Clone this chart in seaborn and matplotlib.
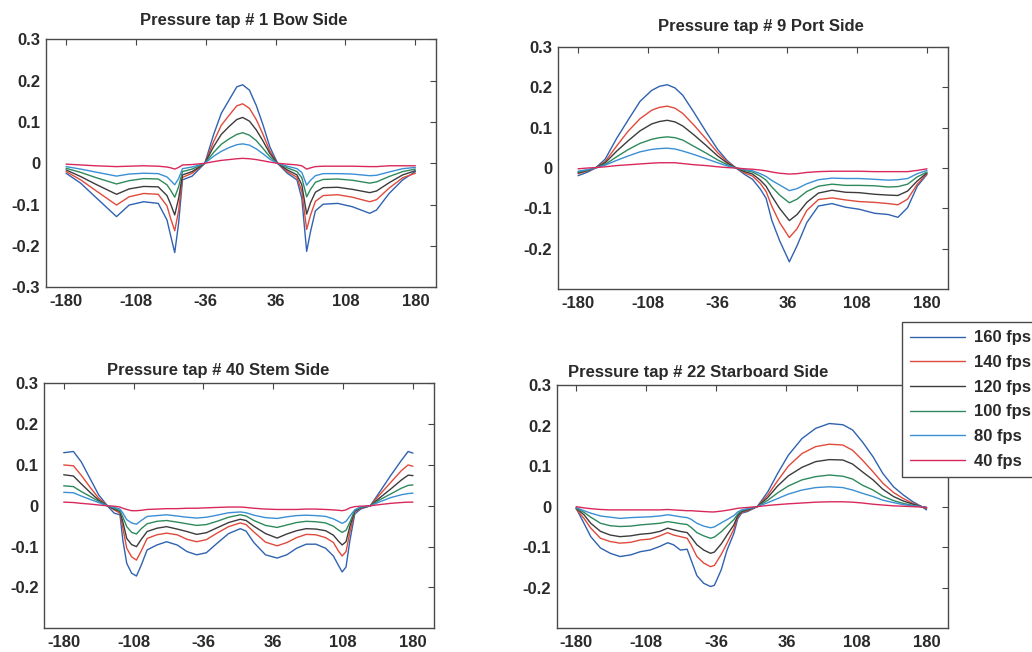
import numpy as np
import pandas as pd
import matplotlib
matplotlib.use("Agg")
import matplotlib.pyplot as plt
import seaborn as sns

# ---------------- data ----------------
speeds = ["160 fps", "140 fps", "120 fps", "100 fps", "80 fps", "40 fps"]
xticks = [-180, -108, -36, 36, 108, 180]

title1 = "Pressure tap # 1 Bow Side"
x1 = [-180, -165, -150, -128, -115, -100, -85, -76, -72, -68, -64, -60, -50, -37, -28, -20, -12, -4, 2, 9,
      16, 23, 30, 38, 48, 58, 63, 68, 72, 77, 85, 100, 115, 133, 140, 153, 167, 180]
p1_160 = [-0.024, -0.048, -0.081, -0.129, -0.101, -0.093, -0.097, -0.137, -0.177, -0.216, -0.145, -0.040, -0.031,
          0.000, 0.069, 0.121, 0.153, 0.185, 0.190, 0.177, 0.140, 0.093, 0.040, 0.000, -0.024, -0.040, -0.085,
          -0.213, -0.165, -0.115, -0.099, -0.097, -0.105, -0.121, -0.113, -0.073, -0.040, -0.020]
p1_140 = [-0.020, -0.040, -0.065, -0.101, -0.081, -0.073, -0.075, -0.103, -0.135, -0.163, -0.115, -0.034, -0.024,
          0.000, 0.052, 0.092, 0.116, 0.139, 0.144, 0.133, 0.106, 0.070, 0.030, 0.000, -0.020, -0.034, -0.068,
          -0.160, -0.125, -0.092, -0.078, -0.076, -0.082, -0.093, -0.088, -0.060, -0.035, -0.024]
p1_120 = [-0.016, -0.032, -0.050, -0.075, -0.062, -0.056, -0.057, -0.078, -0.100, -0.125, -0.085, -0.028, -0.020,
          0.000, 0.040, 0.070, 0.089, 0.106, 0.111, 0.102, 0.081, 0.054, 0.024, 0.000, -0.016, -0.028, -0.052,
          -0.123, -0.095, -0.070, -0.059, -0.058, -0.063, -0.071, -0.067, -0.047, -0.028, -0.018]
p1_100 = [-0.012, -0.022, -0.034, -0.050, -0.042, -0.037, -0.038, -0.052, -0.066, -0.082, -0.057, -0.020, -0.014,
          0.000, 0.026, 0.046, 0.059, 0.070, 0.074, 0.068, 0.055, 0.036, 0.016, 0.000, -0.011, -0.020, -0.035,
          -0.081, -0.063, -0.046, -0.039, -0.038, -0.041, -0.048, -0.045, -0.032, -0.020, -0.014]
p1_80 = [-0.008, -0.014, -0.021, -0.031, -0.026, -0.024, -0.025, -0.033, -0.042, -0.052, -0.037, -0.013, -0.009,
         0.000, 0.017, 0.029, 0.038, 0.045, 0.047, 0.044, 0.035, 0.023, 0.010, 0.000, -0.007, -0.013, -0.022,
         -0.053, -0.041, -0.030, -0.025, -0.025, -0.026, -0.030, -0.029, -0.021, -0.013, -0.010]
p1_40 = [-0.002, -0.004, -0.006, -0.008, -0.007, -0.006, -0.007, -0.009, -0.011, -0.014, -0.010, -0.004, -0.003,
         0.000, 0.004, 0.007, 0.009, 0.011, 0.012, 0.011, 0.009, 0.006, 0.003, 0.000, -0.002, -0.004, -0.006,
         -0.014, -0.011, -0.008, -0.007, -0.007, -0.007, -0.008, -0.008, -0.006, -0.006, -0.006]

title2 = "Pressure tap # 9 Port Side"
x2 = [-180, -170, -162, -152, -140, -128, -116, -104, -96, -88, -80, -72, -60, -48, -36, -26, -17, -8, 0, 8,
      14, 20, 28, 38, 46, 56, 68, 82, 96, 110, 126, 140, 150, 160, 170, 180]
p2_160 = [-0.019, -0.010, 0.000, 0.022, 0.074, 0.120, 0.165, 0.192, 0.202, 0.206, 0.198, 0.180, 0.136, 0.090,
          0.046, 0.018, 0.000, -0.016, -0.028, -0.052, -0.075, -0.130, -0.180, -0.232, -0.192, -0.135, -0.094,
          -0.088, -0.097, -0.102, -0.112, -0.115, -0.122, -0.098, -0.045, -0.016]
p2_140 = [-0.014, -0.007, 0.000, 0.016, 0.055, 0.092, 0.122, 0.143, 0.150, 0.153, 0.148, 0.135, 0.105, 0.072,
          0.038, 0.015, 0.000, -0.012, -0.020, -0.038, -0.058, -0.095, -0.135, -0.172, -0.150, -0.105, -0.078,
          -0.074, -0.079, -0.083, -0.085, -0.088, -0.091, -0.077, -0.040, -0.014]
p2_120 = [-0.012, -0.006, 0.000, 0.013, 0.042, 0.068, 0.092, 0.109, 0.115, 0.118, 0.114, 0.104, 0.081, 0.056,
          0.030, 0.012, 0.000, -0.009, -0.015, -0.030, -0.045, -0.070, -0.100, -0.130, -0.115, -0.085, -0.062,
          -0.055, -0.060, -0.061, -0.065, -0.067, -0.068, -0.057, -0.032, -0.012]
p2_100 = [-0.010, -0.005, 0.000, 0.009, 0.028, 0.046, 0.061, 0.071, 0.075, 0.077, 0.075, 0.069, 0.053, 0.037,
          0.020, 0.008, 0.000, -0.006, -0.010, -0.020, -0.030, -0.047, -0.067, -0.086, -0.077, -0.058, -0.045,
          -0.040, -0.043, -0.043, -0.044, -0.047, -0.046, -0.040, -0.022, -0.010]
p2_80 = [-0.008, -0.004, 0.000, 0.007, 0.019, 0.030, 0.040, 0.046, 0.048, 0.049, 0.047, 0.042, 0.033, 0.023,
         0.013, 0.005, 0.000, -0.004, -0.007, -0.014, -0.021, -0.031, -0.042, -0.056, -0.051, -0.039, -0.029,
         -0.025, -0.026, -0.026, -0.028, -0.030, -0.029, -0.026, -0.014, -0.006]
p2_40 = [-0.002, 0.000, 0.001, 0.003, 0.006, 0.008, 0.010, 0.012, 0.013, 0.013, 0.013, 0.011, 0.008, 0.006,
         0.003, 0.001, 0.000, -0.002, -0.003, -0.005, -0.007, -0.010, -0.013, -0.015, -0.014, -0.011, -0.009,
         -0.008, -0.008, -0.008, -0.009, -0.009, -0.009, -0.009, -0.006, -0.002]

title3 = "Pressure tap # 40 Stem Side"
x3 = [-180, -170, -162, -152, -144, -135, -128, -122, -119, -115, -110, -105, -100, -94, -84, -74, -63, -53,
      -43, -33, -22, -10, 2, 8, 16, 28, 40, 50, 60, 70, 80, 90, 98, 103, 107, 111, 115, 120, 126, 136, 146,
      157, 168, 175, 180]
p3_160 = [0.130, 0.133, 0.108, 0.063, 0.027, 0.000, -0.018, -0.022, -0.085, -0.141, -0.165, -0.172, -0.145,
          -0.108, -0.096, -0.088, -0.096, -0.112, -0.120, -0.115, -0.092, -0.068, -0.056, -0.062, -0.090, -0.120,
          -0.128, -0.120, -0.104, -0.094, -0.094, -0.104, -0.123, -0.145, -0.162, -0.150, -0.085, -0.020, -0.008,
          0.000, 0.035, 0.074, 0.111, 0.133, 0.129]
p3_140 = [0.100, 0.098, 0.075, 0.043, 0.019, 0.000, -0.010, -0.018, -0.055, -0.104, -0.125, -0.133, -0.110,
          -0.080, -0.071, -0.067, -0.071, -0.082, -0.088, -0.083, -0.067, -0.051, -0.042, -0.046, -0.064, -0.089,
          -0.098, -0.090, -0.078, -0.070, -0.071, -0.078, -0.090, -0.110, -0.123, -0.112, -0.065, -0.015, -0.006,
          0.000, 0.028, 0.057, 0.086, 0.100, 0.097]
p3_120 = [0.076, 0.073, 0.054, 0.031, 0.014, 0.000, -0.008, -0.014, -0.040, -0.080, -0.095, -0.100, -0.082,
          -0.063, -0.055, -0.051, -0.057, -0.063, -0.070, -0.066, -0.054, -0.041, -0.033, -0.036, -0.050, -0.068,
          -0.079, -0.069, -0.061, -0.056, -0.057, -0.061, -0.072, -0.086, -0.096, -0.088, -0.050, -0.013, -0.005,
          0.000, 0.020, 0.041, 0.063, 0.075, 0.074]
p3_100 = [0.049, 0.047, 0.035, 0.022, 0.011, 0.000, -0.006, -0.012, -0.028, -0.051, -0.065, -0.069, -0.056,
          -0.044, -0.038, -0.036, -0.040, -0.044, -0.048, -0.046, -0.038, -0.028, -0.022, -0.025, -0.036, -0.048,
          -0.053, -0.047, -0.041, -0.038, -0.039, -0.042, -0.050, -0.059, -0.065, -0.060, -0.040, -0.011, -0.004,
          0.000, 0.015, 0.029, 0.043, 0.050, 0.051]
p3_80 = [0.033, 0.032, 0.024, 0.015, 0.008, 0.000, -0.004, -0.008, -0.018, -0.034, -0.042, -0.045, -0.036,
         -0.026, -0.024, -0.022, -0.025, -0.028, -0.030, -0.028, -0.023, -0.017, -0.015, -0.017, -0.023, -0.029,
         -0.031, -0.027, -0.024, -0.023, -0.024, -0.026, -0.032, -0.038, -0.043, -0.038, -0.025, -0.010, -0.003,
         0.000, 0.010, 0.020, 0.027, 0.030, 0.031]
p3_40 = [0.009, 0.008, 0.006, 0.004, 0.002, 0.000, -0.001, -0.003, -0.006, -0.009, -0.012, -0.012, -0.011,
         -0.009, -0.008, -0.007, -0.007, -0.006, -0.006, -0.005, -0.004, -0.003, -0.003, -0.004, -0.006, -0.008,
         -0.009, -0.009, -0.009, -0.008, -0.008, -0.009, -0.010, -0.011, -0.012, -0.010, -0.005, -0.002, -0.001,
         0.000, 0.003, 0.006, 0.008, 0.009, 0.009]

title4 = "Pressure tap # 22 Starboard Side"
x4 = [-180, -172, -165, -155, -145, -135, -124, -114, -104, -94, -86, -80, -73, -66, -62, -56, -49, -42, -38,
      -31, -25, -18, -14, -10, -4, 6, 17, 27, 38, 52, 66, 80, 94, 104, 114, 125, 135, 146, 156, 166, 175, 180]
p4_160 = [-0.004, -0.041, -0.074, -0.102, -0.115, -0.123, -0.119, -0.111, -0.107, -0.098, -0.089, -0.094, -0.107,
          -0.105, -0.131, -0.170, -0.189, -0.197, -0.194, -0.156, -0.107, -0.066, -0.030, -0.016, -0.012, 0.000,
          0.037, 0.082, 0.127, 0.168, 0.193, 0.205, 0.202, 0.189, 0.160, 0.123, 0.082, 0.049, 0.029, 0.012,
          0.000, -0.008]
p4_140 = [-0.006, -0.029, -0.053, -0.078, -0.086, -0.090, -0.088, -0.082, -0.080, -0.072, -0.064, -0.070, -0.074,
          -0.078, -0.094, -0.123, -0.139, -0.148, -0.145, -0.118, -0.090, -0.055, -0.025, -0.014, -0.010, 0.000,
          0.029, 0.064, 0.100, 0.131, 0.148, 0.154, 0.152, 0.139, 0.115, 0.086, 0.058, 0.035, 0.020, 0.008,
          0.000, -0.004]
p4_120 = [-0.004, -0.020, -0.041, -0.061, -0.070, -0.074, -0.072, -0.068, -0.066, -0.061, -0.053, -0.057, -0.061,
          -0.064, -0.075, -0.094, -0.107, -0.115, -0.112, -0.092, -0.070, -0.045, -0.022, -0.012, -0.008, 0.000,
          0.023, 0.051, 0.076, 0.097, 0.111, 0.116, 0.115, 0.105, 0.086, 0.066, 0.043, 0.025, 0.014, 0.006,
          0.000, -0.003]
p4_100 = [-0.004, -0.014, -0.026, -0.041, -0.047, -0.049, -0.048, -0.045, -0.043, -0.041, -0.037, -0.039, -0.042,
          -0.044, -0.051, -0.064, -0.072, -0.078, -0.075, -0.062, -0.048, -0.032, -0.018, -0.010, -0.006, 0.000,
          0.016, 0.034, 0.051, 0.066, 0.074, 0.078, 0.075, 0.068, 0.053, 0.041, 0.026, 0.015, 0.008, 0.003,
          0.000, -0.002]
p4_80 = [-0.002, -0.010, -0.016, -0.023, -0.026, -0.029, -0.027, -0.026, -0.025, -0.023, -0.020, -0.022, -0.025,
         -0.027, -0.031, -0.041, -0.048, -0.052, -0.050, -0.040, -0.032, -0.022, -0.013, -0.008, -0.005, 0.000,
         0.010, 0.020, 0.031, 0.041, 0.047, 0.049, 0.047, 0.041, 0.033, 0.025, 0.016, 0.010, 0.005, 0.002,
         0.000, -0.002]
p4_40 = [0.000, -0.003, -0.005, -0.007, -0.008, -0.008, -0.008, -0.008, -0.008, -0.008, -0.007, -0.008, -0.009,
         -0.010, -0.010, -0.011, -0.012, -0.013, -0.013, -0.011, -0.009, -0.006, -0.004, -0.003, -0.002, 0.000,
         0.003, 0.005, 0.007, 0.009, 0.011, 0.012, 0.012, 0.011, 0.009, 0.006, 0.004, 0.002, 0.001, 0.000,
         -0.001, -0.002]

# ---------------- styling ----------------
colors = ["#2f62b0", "#e04a3c", "#3c3c3c", "#2e8a5c", "#3b8fd4", "#d9285c"]
palette = dict(zip(speeds, colors))

sns.set_style("white")
plt.rcParams["font.family"] = ["Liberation Sans", "DejaVu Sans"]
plt.rcParams["font.weight"] = "bold"
TXT = "#2a2a2a"

fig = plt.figure(figsize=(10.32, 6.52), dpi=100)
W, H = 1032.0, 652.0


def add_axes(left, right, top, bottom):
    return fig.add_axes([left / W, 1 - bottom / H, (right - left) / W, (bottom - top) / H])


panels = [
    (title1, x1, [p1_160, p1_140, p1_120, p1_100, p1_80, p1_40], (45.7, 435.7, 39.3, 287.3),
     (-201, 201), [-0.3, -0.2, -0.1, 0, 0.1, 0.2, 0.3], (244, 20)),
    (title2, x2, [p2_160, p2_140, p2_120, p2_100, p2_80, p2_40], (557.7, 948.3, 46.7, 289.3),
     (-201, 202), [-0.2, -0.1, 0, 0.1, 0.2, 0.3], (761, 27)),
    (title3, x3, [p3_160, p3_140, p3_120, p3_100, p3_80, p3_40], (44.3, 434.3, 383.3, 628.3),
     (-200, 202), [-0.2, -0.1, 0, 0.1, 0.2, 0.3], (218, 370)),
    (title4, x4, [p4_160, p4_140, p4_120, p4_100, p4_80, p4_40], (556.7, 948.0, 385.0, 628.3),
     (-200, 202), [-0.2, -0.1, 0, 0.1, 0.2, 0.3], (698, 372)),
]

last_ax = None
for title, xs, series, box, xlim, yt, tpos in panels:
    ax = add_axes(*box)
    frames = []
    for name, vals in zip(speeds, series):
        frames.append(pd.DataFrame({"angle": xs, "cp": vals, "speed": name}))
    df = pd.concat(frames, ignore_index=True)
    sns.lineplot(data=df, x="angle", y="cp", hue="speed", hue_order=speeds, palette=palette,
                 estimator=None, sort=False, linewidth=1.0, legend=False, ax=ax)
    ax.set_xlim(*xlim)
    ax.set_ylim(-0.3, 0.3)
    ax.set_xticks(xticks)
    ax.set_xticklabels([str(v) for v in xticks])
    ax.set_yticks(yt)
    ax.set_yticklabels(["0" if v == 0 else f"{v:.1f}" for v in yt])
    ax.set_xlabel("")
    ax.set_ylabel("")
    ax.tick_params(direction="in", length=4, width=0.8, color="#444444", top=True, right=True,
                   labelsize=12, labelcolor=TXT)
    ax.tick_params(axis="x", pad=5)
    ax.tick_params(axis="y", pad=4)
    for sp in ax.spines.values():
        sp.set_visible(True)
        sp.set_color("#4a4a4a")
        sp.set_linewidth(1.0)
    fig.text(tpos[0] / W, 1 - tpos[1] / H, title, ha="center", va="center",
             fontsize=12, fontweight="bold", color=TXT)
    last_ax = ax

handles = last_ax.get_lines()[:6]
leg = fig.legend(handles, speeds, loc="upper left", bbox_to_anchor=(902 / W, 1 - 322 / H),
                 frameon=True, fancybox=False, edgecolor="#4a4a4a", framealpha=1,
                 fontsize=12, handlelength=3.3, handletextpad=0.55, labelspacing=0.58,
                 borderpad=0.5, borderaxespad=0.0)
leg.get_frame().set_linewidth(1.0)
for t in leg.get_texts():
    t.set_color(TXT)

fig.savefig("out.png", dpi=100)
